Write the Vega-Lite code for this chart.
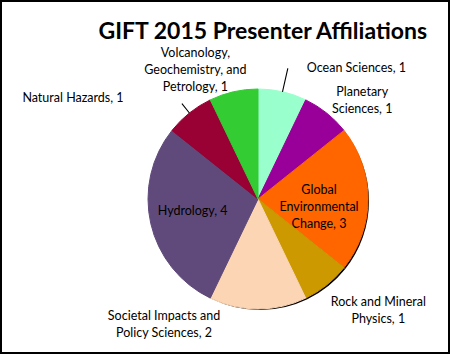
{
  "$schema": "https://vega.github.io/schema/vega-lite/v6.json",
  "width": 450,
  "height": 354,
  "autosize": {"type": "none"},
  "padding": 0,
  "background": "white",
  "view": {"stroke": "black", "strokeWidth": 4, "fill": "white"},
  "config": {"font": "Lato"},
  "title": {"text": "GIFT 2015 Presenter Affiliations", "anchor": "end", "frame": "group", "dx": -23, "offset": -62, "fontSize": 23, "font": "Lato", "fontWeight": "bold", "color": "black", "baseline": "alphabetic"},
  "data": {"values": [
    {"field": "Ocean Sciences", "count": 1, "order": 1, "label": "Ocean Sciences, 1"},
    {"field": "Planetary Sciences", "count": 1, "order": 2, "label": "Planetary|Sciences, 1"},
    {"field": "Global Environmental Change", "count": 3, "order": 3, "label": "Global|Environmental|Change, 3"},
    {"field": "Rock and Mineral Physics", "count": 1, "order": 4, "label": "Rock and Mineral|Physics, 1"},
    {"field": "Societal Impacts and Policy Sciences", "count": 2, "order": 5, "label": "Societal Impacts and|Policy Sciences, 2"},
    {"field": "Hydrology", "count": 4, "order": 6, "label": "Hydrology, 4"},
    {"field": "Natural Hazards", "count": 1, "order": 7, "label": "Natural Hazards, 1"},
    {"field": "Volcanology, Geochemistry, and Petrology", "count": 1, "order": 8, "label": "Volcanology,|Geochemistry, and|Petrology, 1"}
  ]},
  "encoding": {
    "theta": {"field": "count", "type": "quantitative", "stack": true},
    "order": {"field": "order", "type": "quantitative"}
  },
  "layer": [
    {"mark": {"type": "arc", "outerRadius": 109, "xOffset": 35, "yOffset": 24, "color": "black", "strokeWidth": 0}},
    {"mark": {"type": "arc", "outerRadius": 110, "xOffset": 33, "yOffset": 22, "strokeWidth": 1},
     "encoding": {
       "color": {"field": "field", "type": "nominal", "legend": null,
         "scale": {"domain": ["Ocean Sciences", "Planetary Sciences", "Global Environmental Change", "Rock and Mineral Physics", "Societal Impacts and Policy Sciences", "Hydrology", "Natural Hazards", "Volcanology, Geochemistry, and Petrology"],
                   "range": ["#99FFCC", "#990099", "#FF6600", "#CC9900", "#FCD5B5", "#604A7B", "#990033", "#33CC33"]}},
       "stroke": {"field": "field", "type": "nominal", "legend": null,
         "scale": {"domain": ["Ocean Sciences", "Planetary Sciences", "Global Environmental Change", "Rock and Mineral Physics", "Societal Impacts and Policy Sciences", "Hydrology", "Natural Hazards", "Volcanology, Geochemistry, and Petrology"],
                   "range": ["#99FFCC", "#990099", "#FF6600", "#CC9900", "#FCD5B5", "#604A7B", "#990033", "#33CC33"]}}}},
    {"mark": {"type": "arc", "outerRadius": 134, "innerRadius": 110, "xOffset": 33, "yOffset": 22, "padAngle": 0.5, "fill": "transparent", "strokeWidth": 1.1},
     "encoding": {"stroke": {"condition": {"test": "datum.order == 1", "value": "black"}, "value": "transparent"}}},
    {"mark": {"type": "arc", "outerRadius": 122, "innerRadius": 110, "xOffset": 33, "yOffset": 22, "padAngle": 0.5, "fill": "transparent", "strokeWidth": 1.1},
     "encoding": {"stroke": {"condition": {"test": "datum.order == 7", "value": "black"}, "value": "transparent"}}},
    {"mark": {"type": "text", "radius": 134, "xOffset": 33, "yOffset": 22, "dx": 19, "align": "left", "baseline": "middle", "fontSize": 12.5, "lineBreak": "|", "lineHeight": 17},
     "encoding": {"text": {"condition": {"test": "datum.order == 1", "field": "label"}, "value": ""}}},
    {"mark": {"type": "text", "radius": 127, "xOffset": 33, "yOffset": 22, "dx": 25, "dy": -8, "align": "center", "baseline": "middle", "fontSize": 12.5, "lineBreak": "|", "lineHeight": 17},
     "encoding": {"text": {"condition": {"test": "datum.order == 2", "field": "label"}, "value": ""}}},
    {"mark": {"type": "text", "radius": 61, "xOffset": 33, "yOffset": 22, "dy": -9, "align": "center", "baseline": "middle", "fontSize": 12.5, "lineBreak": "|", "lineHeight": 17},
     "encoding": {"text": {"condition": {"test": "datum.order == 3", "field": "label"}, "value": ""}}},
    {"mark": {"type": "text", "radius": 140, "xOffset": 33, "yOffset": 22, "dx": 33, "dy": -6, "align": "center", "baseline": "middle", "fontSize": 12.5, "lineBreak": "|", "lineHeight": 17},
     "encoding": {"text": {"condition": {"test": "datum.order == 4", "field": "label"}, "value": ""}}},
    {"mark": {"type": "text", "radius": 124.5, "xOffset": 33, "yOffset": 22, "dx": -94, "dy": -8, "align": "center", "baseline": "middle", "fontSize": 12.5, "lineBreak": "|", "lineHeight": 17},
     "encoding": {"text": {"condition": {"test": "datum.order == 5", "field": "label"}, "value": ""}}},
    {"mark": {"type": "text", "radius": 67, "xOffset": 33, "yOffset": 22, "dy": -3, "align": "center", "baseline": "middle", "fontSize": 12.5, "lineBreak": "|", "lineHeight": 17},
     "encoding": {"text": {"condition": {"test": "datum.order == 6", "field": "label"}, "value": ""}}},
    {"mark": {"type": "text", "radius": 129, "xOffset": 33, "yOffset": 22, "dx": -54, "align": "right", "baseline": "middle", "fontSize": 12.5, "lineBreak": "|", "lineHeight": 17},
     "encoding": {"text": {"condition": {"test": "datum.order == 7", "field": "label"}, "value": ""}}},
    {"mark": {"type": "text", "radius": 133, "xOffset": 33, "yOffset": 22, "dx": -33, "dy": -16, "align": "center", "baseline": "middle", "fontSize": 12.5, "lineBreak": "|", "lineHeight": 17},
     "encoding": {"text": {"condition": {"test": "datum.order == 8", "field": "label"}, "value": ""}}}
  ]
}
